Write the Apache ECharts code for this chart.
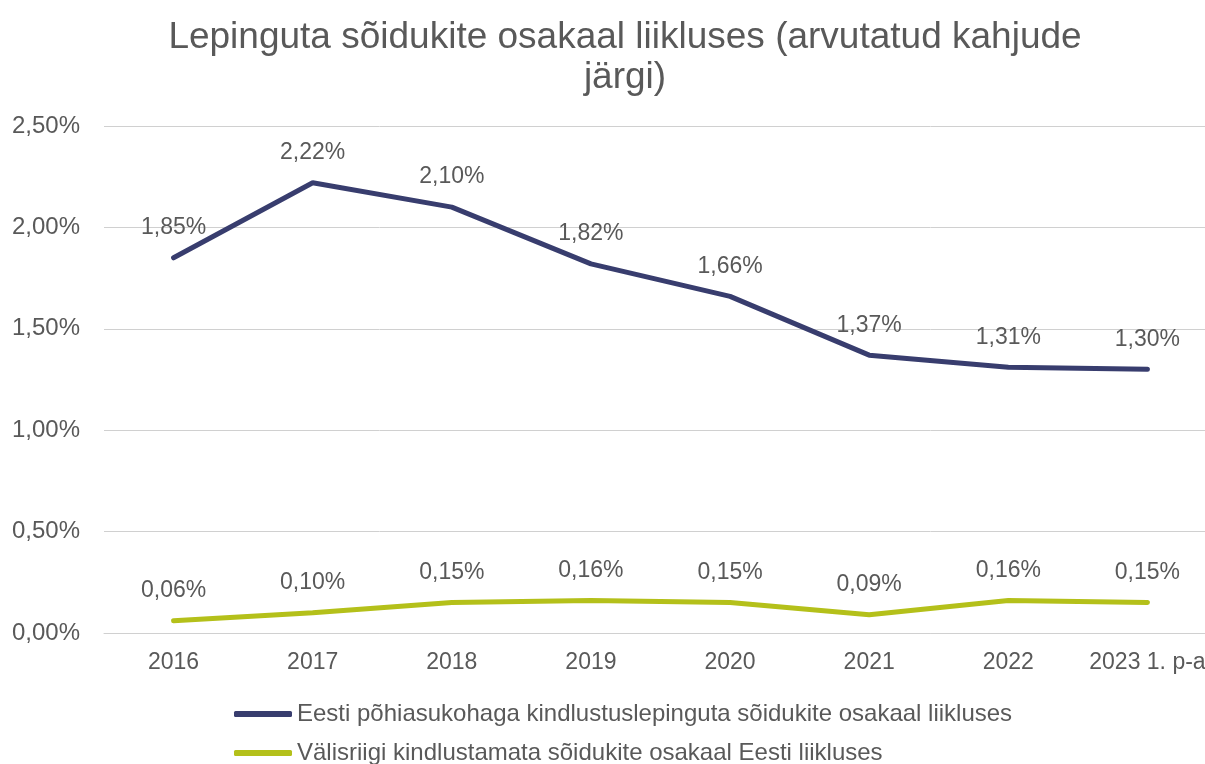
<!DOCTYPE html>
<html>
<head>
<meta charset="utf-8">
<script src="https://cdn.jsdelivr.net/npm/echarts@6/dist/echarts.min.js"></script>
<style>
  html, body { margin: 0; padding: 0; background: #fff; }
  #chart { width: 1205px; height: 764px; }
</style>
</head>
<body>
<div id="chart"></div>
<script>
const categories = ['2016', '2017', '2018', '2019', '2020', '2021', '2022', '2023 1. p-a']
const domesticShare = [1.85, 2.22, 2.10, 1.82, 1.66, 1.37, 1.31, 1.30]
const foreignShare = [0.06, 0.10, 0.15, 0.16, 0.15, 0.09, 0.16, 0.15]
const seriesNames = [
  'Eesti põhiasukohaga kindlustuslepinguta sõidukite osakaal liikluses',
  'Välisriigi kindlustamata sõidukite osakaal Eesti liikluses'
]

const fmt = v => v.toFixed(2).replace('.', ',') + '%'
const textColor = '#595959'
const font = 'Liberation Sans, Arial, sans-serif'

const chart = echarts.init(document.getElementById('chart'))

function lineSeries(name, data, color) {
  return {
    name: name,
    type: 'line',
    data: data,
    symbol: 'circle',
    symbolSize: 1,
    lineStyle: { width: 5, color: color, cap: 'round' },
    itemStyle: { color: color },
    label: {
      show: true,
      position: 'top',
      distance: 18,
      color: textColor,
      fontSize: 23,
      fontFamily: font,
      formatter: p => fmt(p.value)
    },
    emphasis: { disabled: true }
  }
}

function legendRow(name, top) {
  return {
    orient: 'horizontal',
    left: 234,
    top: top,
    padding: 0,
    icon: 'roundRect',
    itemWidth: 58,
    itemHeight: 6,
    textStyle: { color: textColor, fontSize: 24, fontFamily: font },
    data: [name]
  }
}

chart.setOption({
  animation: false,
  textStyle: { fontFamily: font },
  title: {
    text: 'Lepinguta sõidukite osakaal liikluses (arvutatud kahjude\njärgi)',
    left: 620,
    textAlign: 'center',
    top: 13,
    textStyle: {
      color: textColor,
      fontSize: 37,
      fontWeight: 'normal',
      fontFamily: font,
      lineHeight: 40
    }
  },
  legend: [
    legendRow(seriesNames[0], 702),
    legendRow(seriesNames[1], 741)
  ],
  grid: {
    left: 104,
    top: 126,
    width: 1113,
    height: 507,
    containLabel: false,
    outerBoundsMode: 'none'
  },
  xAxis: {
    type: 'category',
    data: categories,
    axisLine: { lineStyle: { color: '#d0d0d0', width: 1 } },
    axisTick: { show: false },
    axisLabel: { color: textColor, fontSize: 23, margin: 18, interval: 0, fontFamily: font }
  },
  yAxis: {
    type: 'value',
    min: 0,
    max: 2.5,
    interval: 0.5,
    axisLine: { show: false },
    axisTick: { show: false },
    splitLine: { lineStyle: { color: '#d0d0d0', width: 1 } },
    axisLabel: { color: textColor, fontSize: 24, margin: 24, fontFamily: font, formatter: v => fmt(v) }
  },
  series: [
    lineSeries(seriesNames[0], domesticShare, '#383d6e'),
    lineSeries(seriesNames[1], foreignShare, '#b4c01a')
  ]
})
</script>
</body>
</html>
